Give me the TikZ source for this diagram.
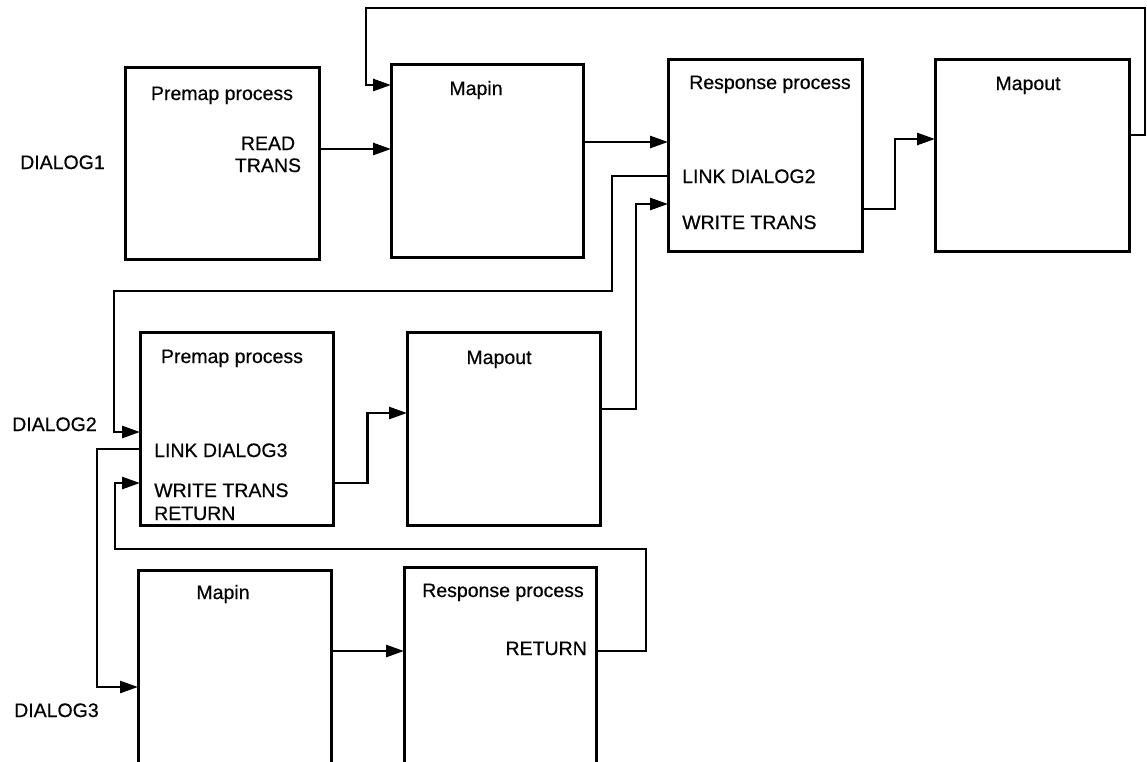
\documentclass[tikz,border=0pt]{standalone}
\usepackage{fontspec}
\setmainfont{Liberation Sans}
\newfontfamily\chartfont[FakeBold=0.5]{Liberation Sans}
\usetikzlibrary{arrows.meta,calc}
\begin{document}
\begin{tikzpicture}[x=1pt,y=-1pt,
  box/.style={draw,line width=3pt,anchor=north west,inner sep=0pt,outer sep=0pt},
  lbl/.style={font=\chartfont\fontsize{19.5}{22}\selectfont,inner sep=0pt},
  wire/.style={line width=2.6pt},
  arr/.style={wire,-{Triangle[length=18pt,width=12pt]}}]
\useasboundingbox (0,0) rectangle (1147,761);
\fill[white] (0,0) rectangle (1147,761);
\clip (0,0) rectangle (1147,761);

% process boxes
\node[box,minimum width=194pt,minimum height=192pt] (A) at (125,67) {};
\node[box,minimum width=192pt,minimum height=193pt] (B) at (391,64) {};
\node[box,minimum width=194pt,minimum height=192pt] (C) at (668,59) {};
\node[box,minimum width=194pt,minimum height=192pt] (E) at (935,59) {};
\node[box,minimum width=193pt,minimum height=193pt] (D) at (140,332) {};
\node[box,minimum width=193pt,minimum height=193pt] (M) at (407,332) {};
\node[box,minimum width=193pt,minimum height=260pt] (F) at (138,570) {};
\node[box,minimum width=192pt,minimum height=260pt] (G) at (404,567) {};

% dialog names
\node[lbl,anchor=base west] (dlg1) at (20,169) {DIALOG1};
\node[lbl,anchor=base west] (dlg2) at (12,431) {DIALOG2};
\node[lbl,anchor=base west] (dlg3) at (14,717) {DIALOG3};

% box texts
\node[lbl,anchor=base] (tA) at (222,100) {Premap process};
\node[lbl,anchor=base] (tA1) at (268,150) {READ};
\node[lbl,anchor=base] (tA2) at (268,172) {TRANS};
\node[lbl,anchor=base] (tB) at (476,95) {Mapin};
\node[lbl,anchor=base] (tC) at (770,89) {Response process};
\node[lbl,anchor=base west] (tC1) at (682,183) {LINK DIALOG2};
\node[lbl,anchor=base west] (tC2) at (682,229) {WRITE TRANS};
\node[lbl,anchor=base] (tE) at (1028,90) {Mapout};
\node[lbl,anchor=base] (tD) at (232,363) {Premap process};
\node[lbl,anchor=base west] (tD1) at (154,457) {LINK DIALOG3};
\node[lbl,anchor=base west] (tD2) at (154,497) {WRITE TRANS};
\node[lbl,anchor=base west] (tD3) at (154,520) {RETURN};
\node[lbl,anchor=base] (tM) at (499,364) {Mapout};
\node[lbl,anchor=base] (tF) at (223,599) {Mapin};
\node[lbl,anchor=base] (tG) at (503,597) {Response process};
\node[lbl,anchor=base east] (tG1) at (587,655) {RETURN};

% ports on the box borders
\coordinate (aOut)  at ([yshift=-82pt]A.north east);
\coordinate (bOut)  at ([yshift=-78pt]B.north east);
\coordinate (bFb)   at ([yshift=-21pt]B.north west);
\coordinate (cOut)  at ([yshift=-150pt]C.north east);
\coordinate (cLink) at ([yshift=-117pt]C.north west);
\coordinate (cIn)   at ([yshift=-145pt]C.north west);
\coordinate (eIn)   at ([yshift=-80pt]E.north west);
\coordinate (eOut)  at ([yshift=-76pt]E.north east);
\coordinate (dIn)   at ([yshift=-100pt]D.north west);
\coordinate (dLink) at ([yshift=-117pt]D.north west);
\coordinate (dRet)  at ([yshift=-151pt]D.north west);
\coordinate (dOut)  at ([yshift=-151pt]D.north east);
\coordinate (mIn)   at ([yshift=-81pt]M.north west);
\coordinate (mOut)  at ([yshift=-77pt]M.north east);
\coordinate (fIn)   at ([yshift=-117pt]F.north west);
\coordinate (fOut)  at ([yshift=-81pt]F.north east);
\coordinate (gOut)  at ([yshift=-84pt]G.north east);

% routing corners
\coordinate (fbR)   at (1145,8);
\coordinate (fbL)   at (366,8);
\coordinate (bus2R) at (612,291);
\coordinate (bus2L) at (114,291);
\coordinate (riser2) at (636,300);
\coordinate (riser3) at (97,600);
\coordinate (bus4R) at (646,549);
\coordinate (bus4L) at (115,549);

% DIALOG1 flow
\draw[arr] (aOut) -- (aOut -| B.west);
\draw[arr] (bOut) -- (bOut -| C.west);
\draw[arr] (cOut) -| ($(cOut)!0.45!(eIn)$) |- (eIn);
\draw[arr] (eOut) -| (fbR) -- (fbL) |- (bFb);

% LINK DIALOG2 and its return
\draw[arr] (cLink) -| (bus2R) -- (bus2L) |- (dIn);
\draw[arr] (dOut) -| ($(dOut)!0.47!(mIn)$) |- (mIn);
\draw[arr] (mOut) -| (riser2) |- (cIn);

% LINK DIALOG3 and its return
\draw[arr] (dLink) -| (riser3) |- (fIn);
\draw[arr] (fOut) -- (fOut -| G.west);
\draw[arr] (gOut) -| (bus4R) -- (bus4L) |- (dRet);
\end{tikzpicture}
\end{document}
